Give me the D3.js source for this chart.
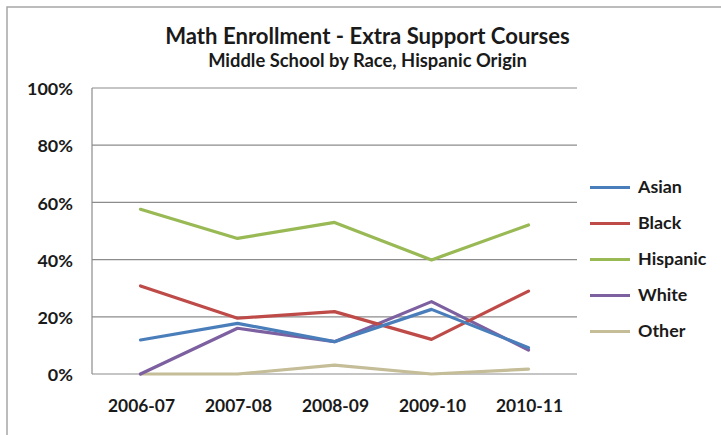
<!DOCTYPE html>
<html>
<head>
<meta charset="utf-8">
<script src="https://cdn.jsdelivr.net/npm/d3@7"></script>
<style>
  html, body { margin: 0; padding: 0; background: #fff; }
  svg text { font-family: Lato, "Open Sans", sans-serif; fill: #1a1a1a; }
</style>
</head>
<body>
<svg id="chart" width="721" height="435"></svg>
<script>
// School years on the x axis
const years = ["2006-07", "2007-08", "2008-09", "2009-10", "2010-11"];

// Share of students in extra-support math courses, percent
const asian    = [11.9, 17.7, 11.3, 22.6, 9.2];
const black    = [30.8, 19.5, 21.8, 12.1, 29.0];
const hispanic = [57.6, 47.4, 53.0, 39.9, 52.1];
const white    = [0.0, 16.0, 11.3, 25.3, 8.4];
const other    = [0.0, 0.0, 3.1, 0.0, 1.7];

const seriesNames  = ["Asian", "Black", "Hispanic", "White", "Other"];
const seriesColors = ["#4a7ebb", "#be4b48", "#98b954", "#7d60a0", "#c4bd97"];
const yTicks = [0, 20, 40, 60, 80, 100];

const series = [asian, black, hispanic, white, other].map((values, i) => ({
  name: seriesNames[i],
  color: seriesColors[i],
  values
}));

const svg = d3.select("#chart");

// Chart-area frame (runs off the right and bottom edges)
svg.append("rect")
  .attr("x", 7).attr("y", 7)
  .attr("width", 730).attr("height", 440)
  .attr("fill", "#fff")
  .attr("stroke", "#a6a6a6")
  .attr("stroke-width", 1.5);

const plot = { left: 92, right: 577, top: 88, bottom: 374 };

const x = d3.scaleBand().domain(years).range([plot.left, plot.right]);
const y = d3.scaleLinear().domain([0, 100]).range([plot.bottom, plot.top]);
const xc = d => x(d) + x.bandwidth() / 2;

// Shrink or grow a text element's font so it spans the given width
function fitWidth(sel, width) {
  sel.each(function () {
    const base = parseFloat(this.getAttribute("font-size"));
    const len = this.getComputedTextLength();
    this.setAttribute("font-size", (base * width / len).toFixed(2));
  });
}

// Titles
const title = svg.append("text")
  .attr("x", 367.5).attr("y", 44)
  .attr("text-anchor", "middle")
  .attr("font-size", 20).attr("font-weight", 700)
  .text("Math Enrollment - Extra Support Courses");
fitWidth(title, 405);

const subtitle = svg.append("text")
  .attr("x", 367.5).attr("y", 66.5)
  .attr("text-anchor", "middle")
  .attr("font-size", 16).attr("font-weight", 700)
  .text("Middle School by Race, Hispanic Origin");
fitWidth(subtitle, 319);

// Horizontal gridlines
svg.append("g")
  .selectAll("line")
  .data(yTicks)
  .join("line")
  .attr("x1", plot.left).attr("x2", plot.right)
  .attr("y1", d => y(d)).attr("y2", d => y(d))
  .attr("stroke", "#8c8c8c")
  .attr("stroke-width", 1.2);

// Left axis line
svg.append("line")
  .attr("x1", plot.left).attr("x2", plot.left)
  .attr("y1", plot.top).attr("y2", plot.bottom)
  .attr("stroke", "#8c8c8c")
  .attr("stroke-width", 1.2);

// Y axis labels
const yAxis = d3.axisLeft(y)
  .tickValues(yTicks)
  .tickFormat(d => d + "%")
  .tickSize(0)
  .tickPadding(0);
const yg = svg.append("g")
  .attr("transform", `translate(73,1)`)
  .call(yAxis);
yg.select(".domain").remove();
yg.selectAll("text")
  .attr("font-size", 17).attr("font-weight", 700)
  .attr("font-family", null)
  .style("fill", "#1a1a1a");
// scale all y labels by the same factor, using "100%" as the reference width
{
  const ref = yg.selectAll("text").filter(d => d === 100).node();
  const k = 46 / ref.getComputedTextLength();
  yg.selectAll("text").attr("font-size", (17 * k).toFixed(2));
}
yg.attr("font-family", null).attr("font-size", null);

// X axis labels
const xAxis = d3.axisBottom(x).tickSize(0).tickPadding(0);
const xg = svg.append("g")
  .attr("transform", `translate(1,${plot.bottom})`)
  .call(xAxis);
xg.select(".domain").remove();
xg.attr("font-family", null).attr("font-size", null);
xg.selectAll("text")
  .attr("dy", null)
  .attr("y", 38)
  .attr("font-size", 17).attr("font-weight", 700)
  .style("fill", "#1a1a1a");
{
  const ref = xg.select("text").node();
  const k = 67 / ref.getComputedTextLength();
  xg.selectAll("text").attr("font-size", (17 * k).toFixed(2));
}

// Series lines
const line = d3.line()
  .x((d, i) => xc(years[i]))
  .y(d => y(d));

svg.append("g")
  .selectAll("path")
  .data(series.slice().reverse())
  .join("path")
  .attr("d", d => line(d.values))
  .attr("fill", "none")
  .attr("stroke", d => d.color)
  .attr("stroke-width", 3.2)
  .attr("stroke-linejoin", "round")
  .attr("stroke-linecap", "round");

// Legend
const legend = svg.append("g")
  .selectAll("g")
  .data(series)
  .join("g")
  .attr("transform", (d, i) => `translate(590,${187.5 + i * 36})`);

legend.append("line")
  .attr("x1", 0).attr("x2", 40)
  .attr("stroke", d => d.color)
  .attr("stroke-width", 3.2);

const legendText = legend.append("text")
  .attr("x", 48).attr("y", 5.5)
  .attr("font-size", 15).attr("font-weight", 700)
  .text(d => d.name);
{
  const ref = legendText.filter(d => d.name === "Asian").node();
  const k = 44 / ref.getComputedTextLength();
  legendText.attr("font-size", (15 * k).toFixed(2));
}
</script>
</body>
</html>
